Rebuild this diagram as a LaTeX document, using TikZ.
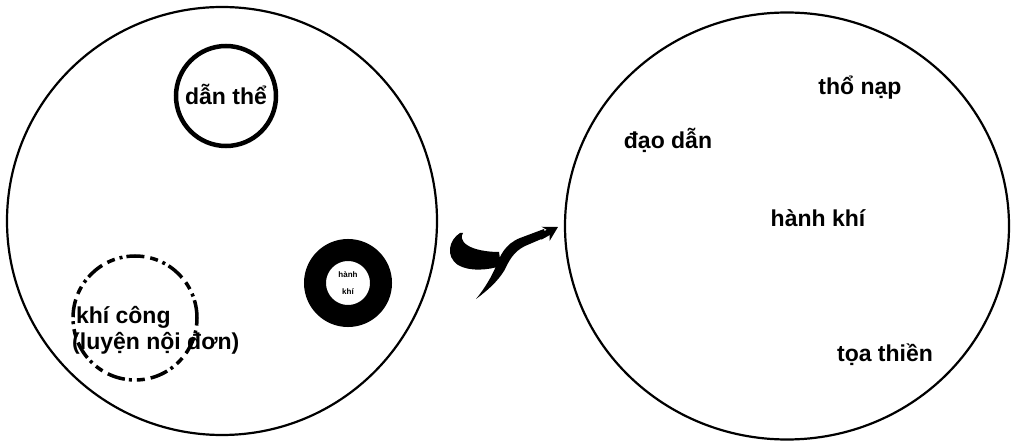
\documentclass[tikz,border=0pt]{standalone}
\usepackage{fontspec}
\setmainfont{Liberation Sans}
\usetikzlibrary{shapes.geometric,arrows.meta}
\begin{document}
\begin{tikzpicture}[x=1pt,y=-1pt,
  bigring/.style={draw=black,line width=2.2pt,inner sep=0pt},
  lbl/.style={font=\fontsize{23}{26}\selectfont\bfseries,inner sep=0pt},
  tinylbl/.style={font=\fontsize{8}{9}\selectfont\bfseries,inner sep=0pt,align=center}]
\useasboundingbox (0,0) rectangle (1011,443);
% big circles
\node[bigring,ellipse,minimum width=430pt,minimum height=428pt] (L) at (222,221) {};
\node[bigring,ellipse,minimum width=444pt,minimum height=427pt] (R) at (787,226) {};
% left small circles
\node[circle,draw=black,line width=4.5pt,minimum size=100pt,inner sep=0pt] (c1) at (226,96) {};
\node[lbl] (t1) at (226,94) {dẫn thể};
\node[circle,draw=black,line width=3.5pt,dash pattern=on 18pt off 4pt on 3pt off 5pt on 8pt off 6pt,minimum size=124pt,inner sep=0pt] (c2) at (135,318) {};
\node[lbl,align=left,anchor=west] (t2) at (72,330) {\,khí công\\(luyện nội đơn)};
\node[circle,draw=black,line width=22pt,minimum size=66pt,inner sep=0pt] (c3) at (348,283) {};
\node[tinylbl] (t3) at (348,283) {hành\\[8pt]khí};
% right labels
\node[lbl] (r1) at (860,88) {thổ nạp};
\node[lbl] (r2) at (668,140) {đạo dẫn};
\node[lbl] (r3) at (818,218) {hành khí};
\node[lbl] (r4) at (885,355) {tọa thiền};
% curled arrow symbol
\fill[black] (460,233) .. controls (449,240) and (445,256) .. (458,265)
  .. controls (470,272) and (488,270) .. (501,266)
  -- (499,252) .. controls (488,252) and (474,250) .. (467,245)
  .. controls (461,241) and (461,236) .. (463,233) -- cycle;
\fill[black] (476,299) .. controls (488,290) and (497,282) .. (504,271)
  .. controls (509,261) and (513,252) .. (525,246)
  -- (546,237) -- (544,229) -- (520,238)
  .. controls (505,244) and (500,256) .. (496,266)
  .. controls (492,276) and (485,288) .. (476,299) -- cycle;
\coordinate (a0) at (540,237);
\coordinate (a1) at (558,227);
\draw[line width=6pt,-{Stealth[length=14pt,width=16pt]}] (a0) -- (a1);
\end{tikzpicture}
\end{document}
